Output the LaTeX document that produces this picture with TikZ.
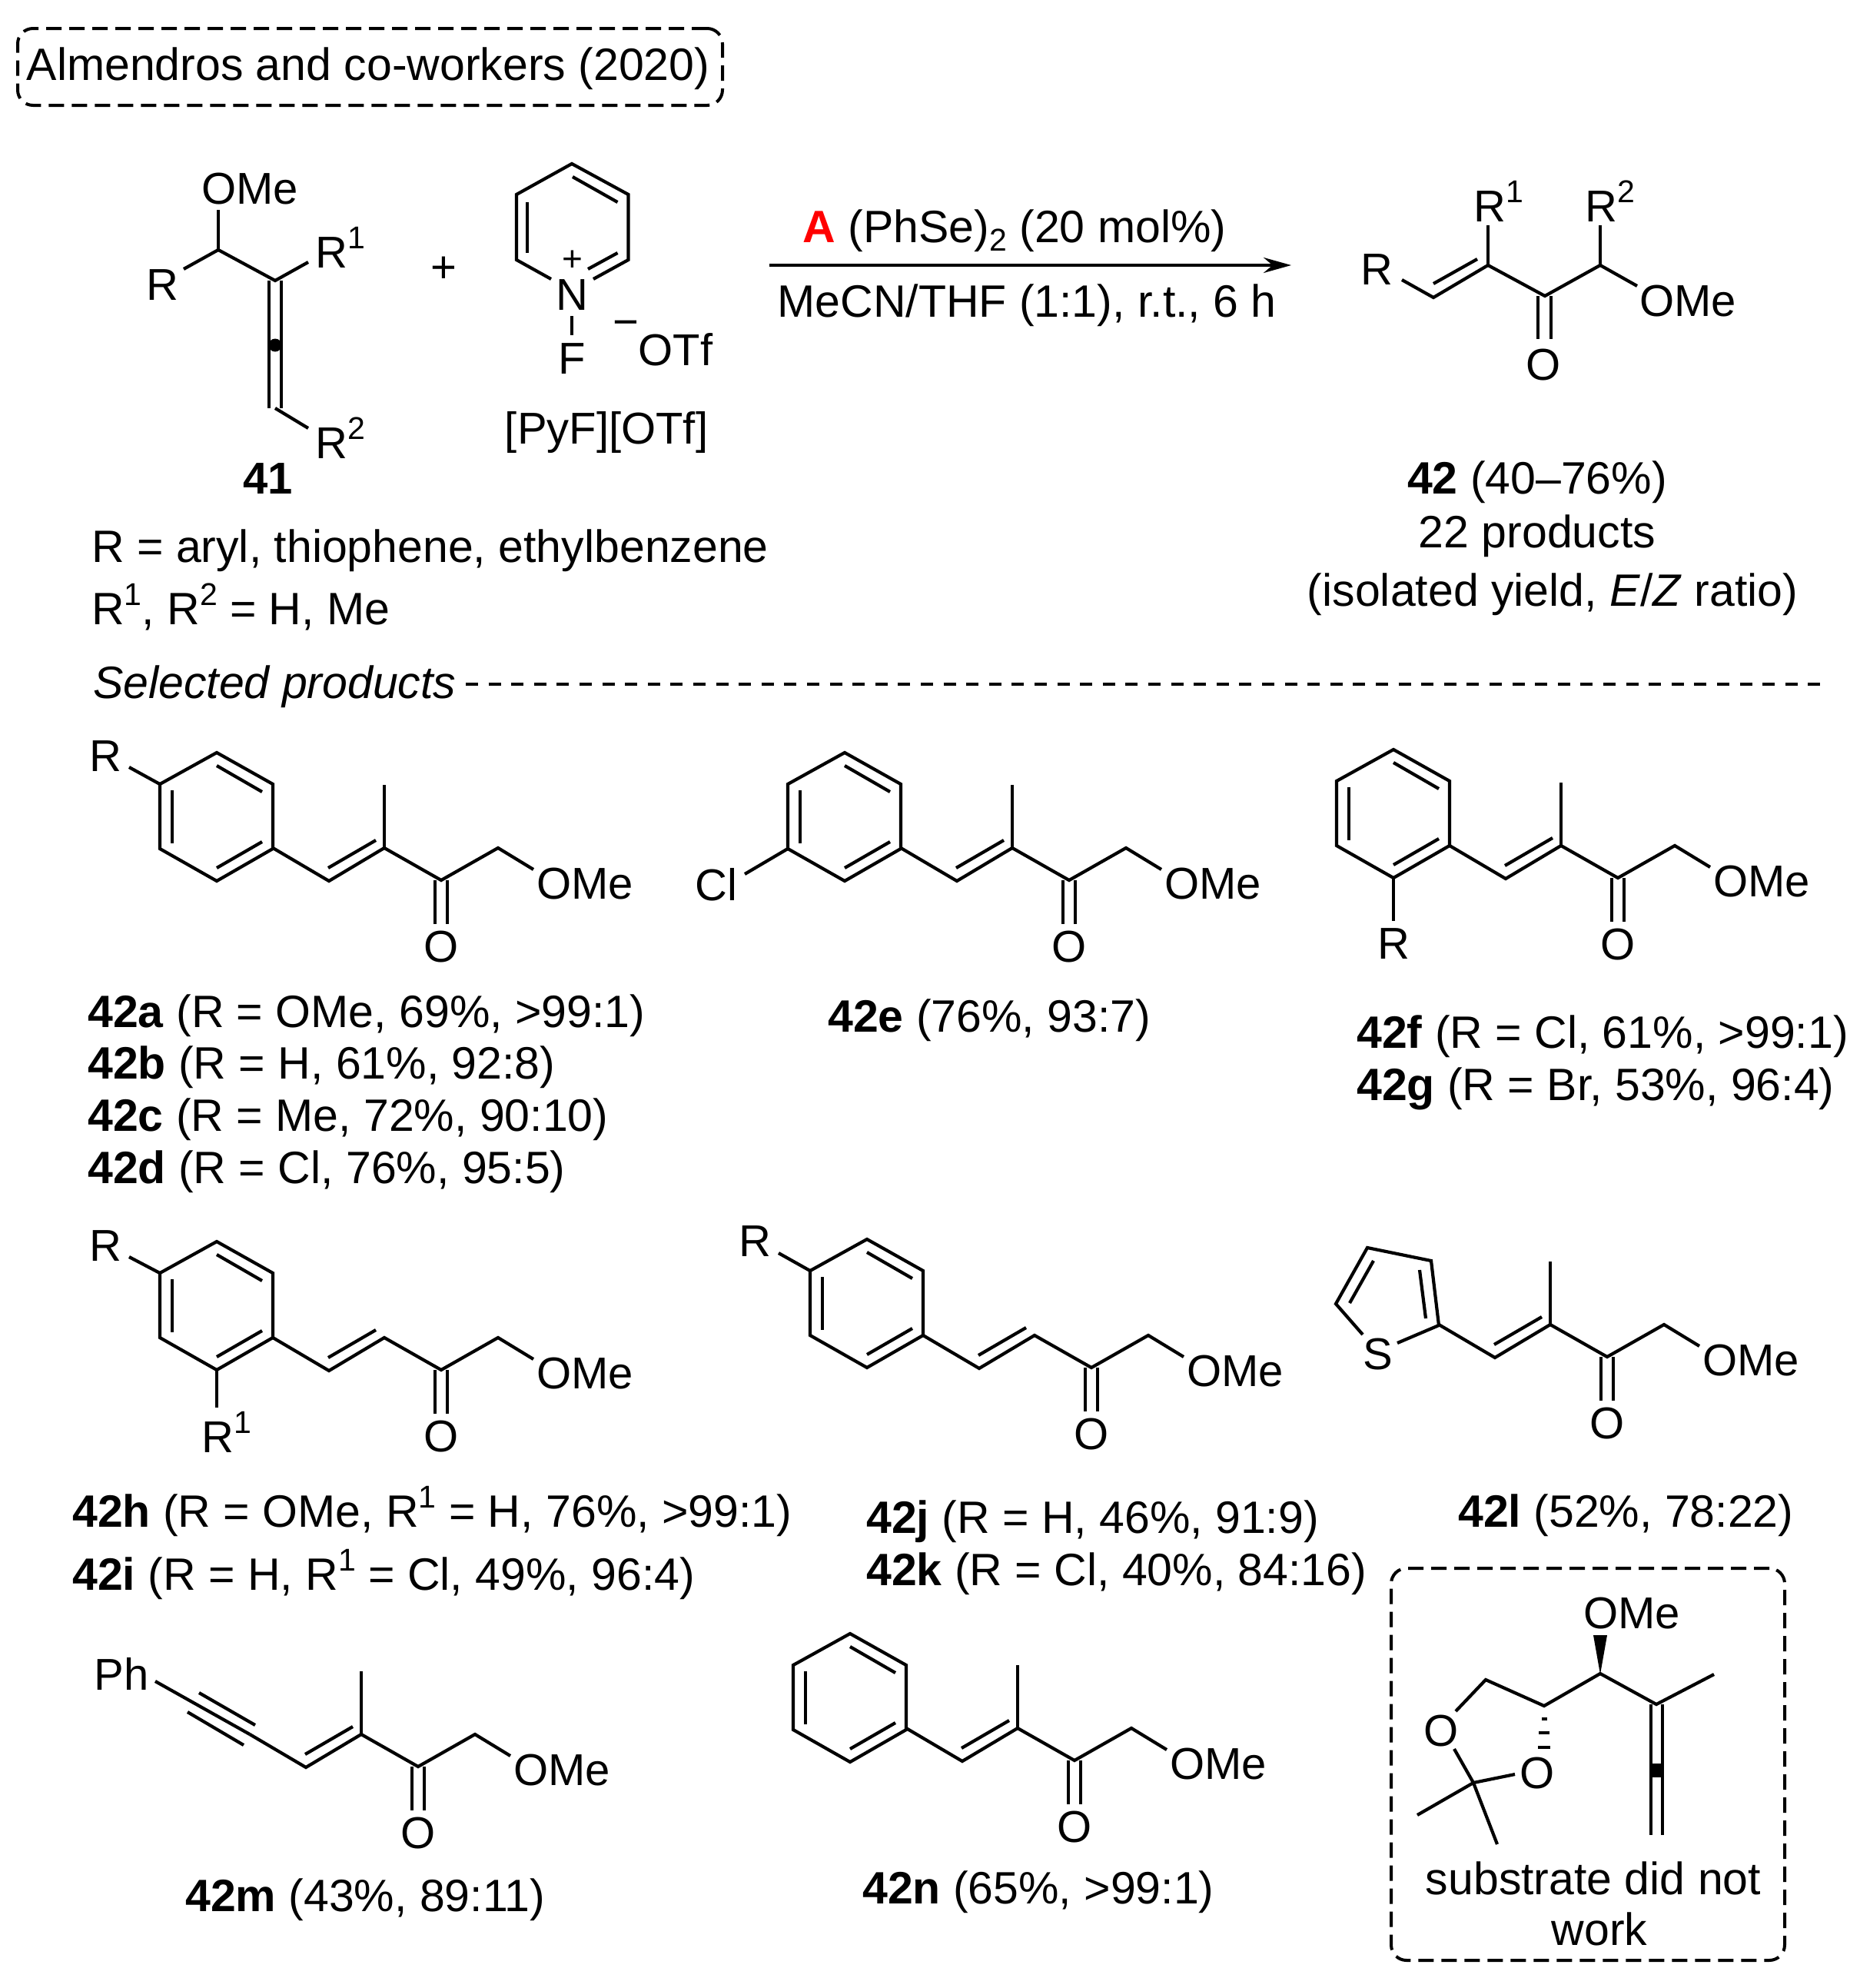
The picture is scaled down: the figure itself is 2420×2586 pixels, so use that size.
\documentclass[tikz,border=0pt]{standalone}
\usepackage{fontspec}
\setmainfont{Liberation Sans}
\usetikzlibrary{arrows.meta}

\newcommand{\supnum}[1]{\raisebox{.42em}{\fontsize{41}{41}\selectfont #1}}
\newcommand{\subnum}[1]{\raisebox{-.2em}{\fontsize{41}{41}\selectfont #1}}

\tikzset{
  bond/.style={line width=4.2pt},
  atom/.style={inner sep=0pt, anchor=base},
  txt/.style={inner sep=0pt, anchor=base west, font=\fontsize{59}{60}\selectfont},
  boxdash/.style={draw, line width=4pt, dash pattern=on 20pt off 10pt, rounded corners=20pt, inner sep=0pt},
}

% benzene ring around its centre
\newcommand{\phring}[1]{
\begin{scope}[shift={(#1)}]
\draw [bond](0,-83)--(73,-42)--(73,42)--(0,84)--(-74,42)--(-74,-42)--cycle;
\draw [bond](-58,-34)--(-58,35);
\draw [bond](0,-66)--(59,-32);
\draw [bond](0,67)--(59,33);
\end{scope}
}

% enone side chain, #1 is the ipso carbon, #2 the name prefix
\newcommand{\enone}[2]{
\begin{scope}[shift={(#1)}]
\draw [bond](0,0)--(73,43)--(145,0)--(219,42)--(293,0)--(339,28);
\draw [bond](72,26)--(134,-10);
\draw [bond](211,42)--(211,99);
\draw [bond](227,42)--(227,99);
\node [atom] (#2O) at (219,148) {O};
\node [atom] (#2OMe) at (406,66) {OMe};
\end{scope}
}
\newcommand{\enoneMe}[2]{
\enone{#1}{#2}
\draw [bond]([shift={(145,0)}]#1)--([shift={(145,-82)}]#1);
}

\begin{document}
\begin{tikzpicture}[x=1pt, y=-1pt, >=stealth, every node/.style={font=\fontsize{58}{60}\selectfont}]
\useasboundingbox (0,0) rectangle (2420,2586);

% header
\node [boxdash, minimum width=917pt, minimum height=100pt] (hdrbox) at (481.5,87) {};
\node [atom, font=\fontsize{59}{60}\selectfont] (hdr) at (479,104) {Almendros and co-workers (2020)};

% allene 41
\draw [bond](239,350)--(284,325)--(358,365)--(401,341);
\draw [bond](284,325)--(284,273);
\draw [bond](350,365)--(350,531);
\draw [bond](366,365)--(366,531);
\draw [bond](358,531)--(401,557);
\fill (358,449) circle[radius=8.5pt];
\node [atom] (mOMe) at (325,265) {OMe};
\node [atom] (mR) at (211,390) {R};
\node [atom, anchor=base west] (mRa) at (410,348) {R\supnum{1}};
\node [atom, anchor=base west] (mRb) at (410,596) {R\supnum{2}};
\node [atom] (m41) at (349,642) {\textbf{41}};
\node [txt] (mRdef) at (119,731) {R = aryl, thiophene, ethylbenzene};
\node [txt] (mRdefb) at (119,812) {R\supnum{1}, R\supnum{2} = H, Me};

\node [atom] (plus) at (577,367) {+};

% N-fluoropyridinium
\draw [bond](717,363)--(672,338)--(672,253)--(744,213)--(817.5,253)--(817.5,338)--(772,363);
\draw [bond](745,230)--(803.5,263);
\draw [bond](686,263)--(686,329);
\draw [bond](765,350)--(803.5,329);
\draw [bond](744,411)--(744,436);
\node [atom, font=\fontsize{46}{46}\selectfont] (pyPlus) at (745,352) {+};
\node [atom] (pyN) at (744,403) {N};
\node [atom] (pyF) at (744,486) {F};
\node [atom] (pyMinus) at (814,438) {−};
\node [atom] (pyOTf) at (879,475) {OTf};
\node [atom] (pyName) at (789,577) {[PyF][OTf]};

% arrow
\coordinate (arrowL) at (1001,345);
\coordinate (arrowR) at (1680,345);
\draw [-{Stealth[length=36pt,width=20pt]}, line width=4pt](arrowL)--(arrowR);
\node [atom, font=\fontsize{59}{60}\selectfont] (condUp) at (1320,315) {\textcolor{red}{\textbf{A}} (PhSe)\subnum{2} (20 mol\%)};
\node [atom, font=\fontsize{59}{60}\selectfont] (condDn) at (1336,412) {MeCN/THF (1:1), r.t., 6 h};

% product 42
\draw [bond](1824,364)--(1865,387)--(1936,345)--(2010,385)--(2082,345)--(2130,372);
\draw [bond](1865,369)--(1922,337);
\draw [bond](1936,345)--(1936,293);
\draw [bond](2082,345)--(2082,293);
\draw [bond](2001,385)--(2001,441);
\draw [bond](2018,385)--(2018,441);
\node [atom] (pR) at (1791,370) {R};
\node [atom, anchor=base west] (pRa) at (1917,288) {R\supnum{1}};
\node [atom, anchor=base west] (pRb) at (2062,288) {R\supnum{2}};
\node [atom] (pOMe) at (2196,411) {OMe};
\node [atom] (pO) at (2008,494) {O};
\node [atom, font=\fontsize{59}{60}\selectfont] (p42) at (2000,642) {\textbf{42} (40–76\%)};
\node [atom, font=\fontsize{59}{60}\selectfont] (pN) at (2000,712) {22 products};
\node [atom, font=\fontsize{59}{60}\selectfont] (pIso) at (2020,788) {(isolated yield, \textit{E}/\textit{Z} ratio)};

% selected products
\node [txt] (sel) at (121,908) {\textit{Selected products}};
\coordinate (selL) at (606,890);
\coordinate (selR) at (2371,890);
\draw [line width=3.6pt, dash pattern=on 16pt off 13.6pt](selL)--(selR);

% 42a-d
\phring{282,1062}
\enoneMe{355,1103}{a}
\draw [bond](208,1020)--(168,998);
\node [atom] (aR) at (137,1003) {R};
\node [txt] (la) at (114,1336) {\textbf{42a} (R = OMe, 69\%, >99:1)};
\node [txt] (lb) at (114,1403) {\textbf{42b} (R = H, 61\%, 92:8)};
\node [txt] (lc) at (114,1471) {\textbf{42c} (R = Me, 72\%, 90:10)};
\node [txt] (ld) at (114,1539) {\textbf{42d} (R = Cl, 76\%, 95:5)};

% 42e
\phring{1099,1062}
\enoneMe{1172,1103}{e}
\draw [bond](1025,1104)--(969,1137);
\node [atom] (eCl) at (932,1171) {Cl};
\node [txt] (le) at (1077,1342) {\textbf{42e} (76\%, 93:7)};

% 42f-g
\phring{1813,1058}
\enoneMe{1886,1100}{f}
\draw [bond](1813,1141)--(1813,1198);
\node [atom] (fR) at (1813,1247) {R};
\node [txt] (lf) at (1765,1363) {\textbf{42f} (R = Cl, 61\%, >99:1)};
\node [txt] (lg) at (1765,1431) {\textbf{42g} (R = Br, 53\%, 96:4)};

% 42h-i
\phring{282,1698}
\enone{355,1740}{h}
\draw [bond](208,1656)--(168,1635);
\draw [bond](282,1782)--(282,1831);
\node [atom] (hR) at (137,1640) {R};
\node [atom, anchor=base west] (hRa) at (262,1889) {R\supnum{1}};
\node [txt] (lh) at (94,1986) {\textbf{42h} (R = OMe, R\supnum{1} = H, 76\%, >99:1)};
\node [txt] (li) at (94,2068) {\textbf{42i} (R = H, R\supnum{1} = Cl, 49\%, 96:4)};

% 42j-k
\phring{1128,1695}
\enone{1201,1737}{j}
\draw [bond](1054,1653)--(1013,1630);
\node [atom] (jR) at (982,1634) {R};
\node [txt] (lj) at (1127,1994) {\textbf{42j} (R = H, 46\%, 91:9)};
\node [txt] (lk) at (1127,2062) {\textbf{42k} (R = Cl, 40\%, 84:16)};

% 42l
\draw [bond](1818,1747)--(1872,1724)--(1862,1640)--(1779,1623)--(1738,1696)--(1773,1736);
\draw [bond](1847,1652)--(1855,1715);
\draw [bond](1787,1640)--(1756,1695);
\enoneMe{1872,1723}{l}
\node [atom] (lS) at (1793,1781) {S};
\node [txt] (ll) at (1897,1986) {\textbf{42l} (52\%, 78:22)};

% 42m
\draw [bond](202,2187)--(325,2256);
\draw [bond](259,2202)--(332,2244);
\draw [bond](244,2227)--(317,2270);
\enoneMe{325,2256}{m}
\node [atom] (mPh) at (158,2198) {Ph};
\node [txt] (lm) at (241,2486) {\textbf{42m} (43\%, 89:11)};

% 42n
\phring{1106,2208}
\enoneMe{1179,2248}{n}
\node [txt] (ln) at (1122,2476) {\textbf{42n} (65\%, >99:1)};

% failed substrate
\node [boxdash, minimum width=512pt, minimum height=510pt] (failbox) at (2066,2295) {};
\fill (2082,2178)--(2073,2127)--(2091,2127)--cycle;
\draw [bond](1894,2226)--(1933,2185)--(2009,2219)--(2082,2177)--(2155,2217)--(2230,2178);
\draw [bond](2148,2217)--(2148,2387);
\draw [bond](2163,2217)--(2163,2387);
\fill (2148,2294) rectangle (2163,2312);
\fill (2005.5,2234) rectangle (2012.5,2238);
\fill (2002,2252) rectangle (2016,2256);
\fill (2001,2271) rectangle (2017,2275);
\draw [bond](1892,2275)--(1917,2319)--(1948,2399);
\draw [bond](1971,2308)--(1917,2319)--(1844,2361);
\node [atom] (xOMe) at (2123,2118) {OMe};
\node [atom] (xOa) at (1875,2271) {O};
\node [atom] (xOb) at (2000,2326) {O};
\node [atom, font=\fontsize{59}{60}\selectfont] (xNo) at (2073,2464) {substrate did not};
\node [atom, font=\fontsize{59}{60}\selectfont] (xWork) at (2081,2530) {work};

\end{tikzpicture}
\end{document}
